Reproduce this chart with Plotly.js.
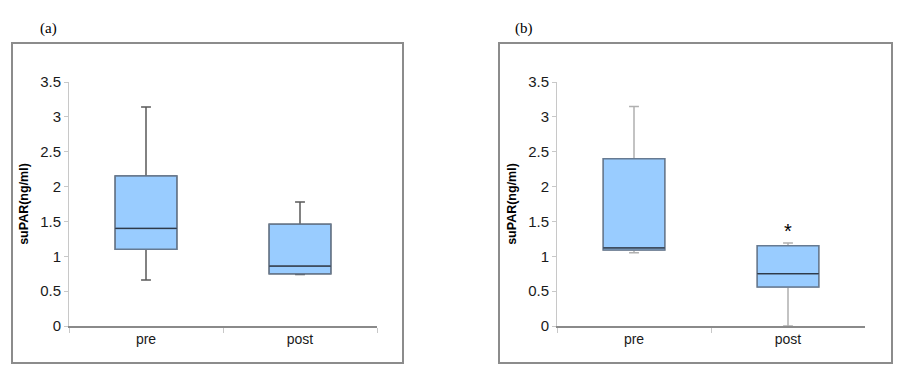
<!DOCTYPE html>
<html>
<head>
<meta charset="utf-8">
<script src="https://cdn.plot.ly/plotly-3.0.1.min.js"></script>
<style>html,body{margin:0;padding:0;background:#fff;}#chart{width:901px;height:373px;}</style>
</head>
<body>
<div id="chart"></div>
<script>
// ---- data ----
const categories = ["pre", "post"];
const panelLabels = ["(a)", "(b)"];
const yTitle = "suPAR(ng/ml)";
const yTickVals = [0, 0.5, 1, 1.5, 2, 2.5, 3, 3.5];
const yTickText = ["0", "0.5", "1", "1.5", "2", "2.5", "3", "3.5"];

// panel (a)
const aLower  = [0.66, 0.74];
const aQ1     = [1.10, 0.75];
const aMedian = [1.40, 0.86];
const aQ3     = [2.15, 1.46];
const aUpper  = [3.14, 1.78];

// panel (b)
const bLower  = [1.05, 0.00];
const bQ1     = [1.09, 0.56];
const bMedian = [1.12, 0.75];
const bQ3     = [2.40, 1.15];
const bUpper  = [3.15, 1.19];

const sigMarker = "*";
const sigCategory = "post";
const sigY = 1.36;

// ---- styling ----
const fillBlue = "#99CCFF";
const boxLine = "#667a92";
const medianLine = "#2e3a4a";
const axisGray = "#8a8a8a";
const sansFam = "'Liberation Sans', Arial, sans-serif";
const serifFam = "'Liberation Serif', 'DejaVu Serif', serif";
const tickFont = {family: sansFam, size: 15, color: "#1a1a1a"};

function panelTraces(lower, q1, med, q3, upper, xa, ya, whiskerColor) {
  return [
    { type: "box", x: categories, q1: q1, median: med, q3: q3,
      lowerfence: lower, upperfence: upper, width: 0.4, whiskerwidth: 0.16,
      fillcolor: "rgba(0,0,0,0)", line: {color: whiskerColor, width: 1.5},
      xaxis: xa, yaxis: ya, hoverinfo: "skip", boxpoints: false },
    { type: "box", x: categories, q1: q1, median: med, q3: q3,
      lowerfence: q1, upperfence: q3, width: 0.4, whiskerwidth: 0,
      fillcolor: fillBlue, line: {color: boxLine, width: 1.5},
      xaxis: xa, yaxis: ya, hoverinfo: "skip", boxpoints: false },
    { type: "box", x: categories, q1: med, median: med, q3: med,
      lowerfence: med, upperfence: med, width: 0.4, whiskerwidth: 0,
      fillcolor: "rgba(0,0,0,0)", line: {color: medianLine, width: 1.2},
      xaxis: xa, yaxis: ya, hoverinfo: "skip", boxpoints: false }
  ];
}

const data = [].concat(
  panelTraces(aLower, aQ1, aMedian, aQ3, aUpper, "x", "y", "#5a5a5a"),
  panelTraces(bLower, bQ1, bMedian, bQ3, bUpper, "x2", "y2", "#b0b0b0")
);

const W = 901, H = 373;
const px = v => v / W;
const py = v => 1 - v / H;

function xAxis(d0, d1, anchor) {
  return { domain: [px(d0), px(d1)], anchor: anchor, type: "category",
    categoryorder: "array", categoryarray: categories, range: [-0.5, 1.5],
    showline: true, linecolor: axisGray, linewidth: 1.5, showgrid: false, zeroline: false,
    ticks: "outside", tickson: "boundaries", ticklen: 5, tickcolor: "#c8c8c8", tickwidth: 1,
    tickfont: {family: sansFam, size: 14, color: "#1a1a1a"}, fixedrange: true };
}
function yAxis(anchor) {
  return { domain: [py(326), py(82)], anchor: anchor, range: [0, 3.5],
    tickvals: yTickVals, ticktext: yTickText,
    showline: true, linecolor: "#c8c8c8", linewidth: 1, showgrid: false, zeroline: false,
    ticks: "outside", ticklen: 4, tickcolor: "#c8c8c8",
    tickfont: tickFont,
    title: {text: yTitle, font: {family: sansFam, size: 12.5, color: "#000", weight: "bold"}, standoff: 8},
    fixedrange: true };
}

const layout = {
  width: W, height: H,
  margin: {l: 0, r: 0, t: 0, b: 0},
  paper_bgcolor: "#fff", plot_bgcolor: "rgba(0,0,0,0)",
  showlegend: false, boxmode: "overlay",
  xaxis: xAxis(69, 377, "y"),
  yaxis: yAxis("x"),
  xaxis2: xAxis(557, 865, "y2"),
  yaxis2: yAxis("x2"),
  shapes: [
    {type: "rect", xref: "paper", yref: "paper", x0: px(12), x1: px(403), y0: py(363), y1: py(43),
     line: {color: "#8c8c8c", width: 2}, layer: "below"},
    {type: "rect", xref: "paper", yref: "paper", x0: px(499), x1: px(892), y0: py(363), y1: py(43),
     line: {color: "#8c8c8c", width: 2}, layer: "below"}
  ],
  annotations: [
    {text: panelLabels[0], xref: "paper", yref: "paper", x: px(38), y: py(18), showarrow: false,
     font: {family: serifFam, size: 15, color: "#000"}},
    {text: panelLabels[1], xref: "paper", yref: "paper", x: px(524), y: py(18), showarrow: false,
     font: {family: serifFam, size: 15, color: "#000"}},
    {text: sigMarker, xref: "x2", yref: "y2", x: sigCategory, y: sigY, showarrow: false,
     font: {family: sansFam, size: 20, color: "#000"}}
  ]
};

Plotly.newPlot("chart", data, layout, {displayModeBar: false, staticPlot: true});
</script>
</body>
</html>
